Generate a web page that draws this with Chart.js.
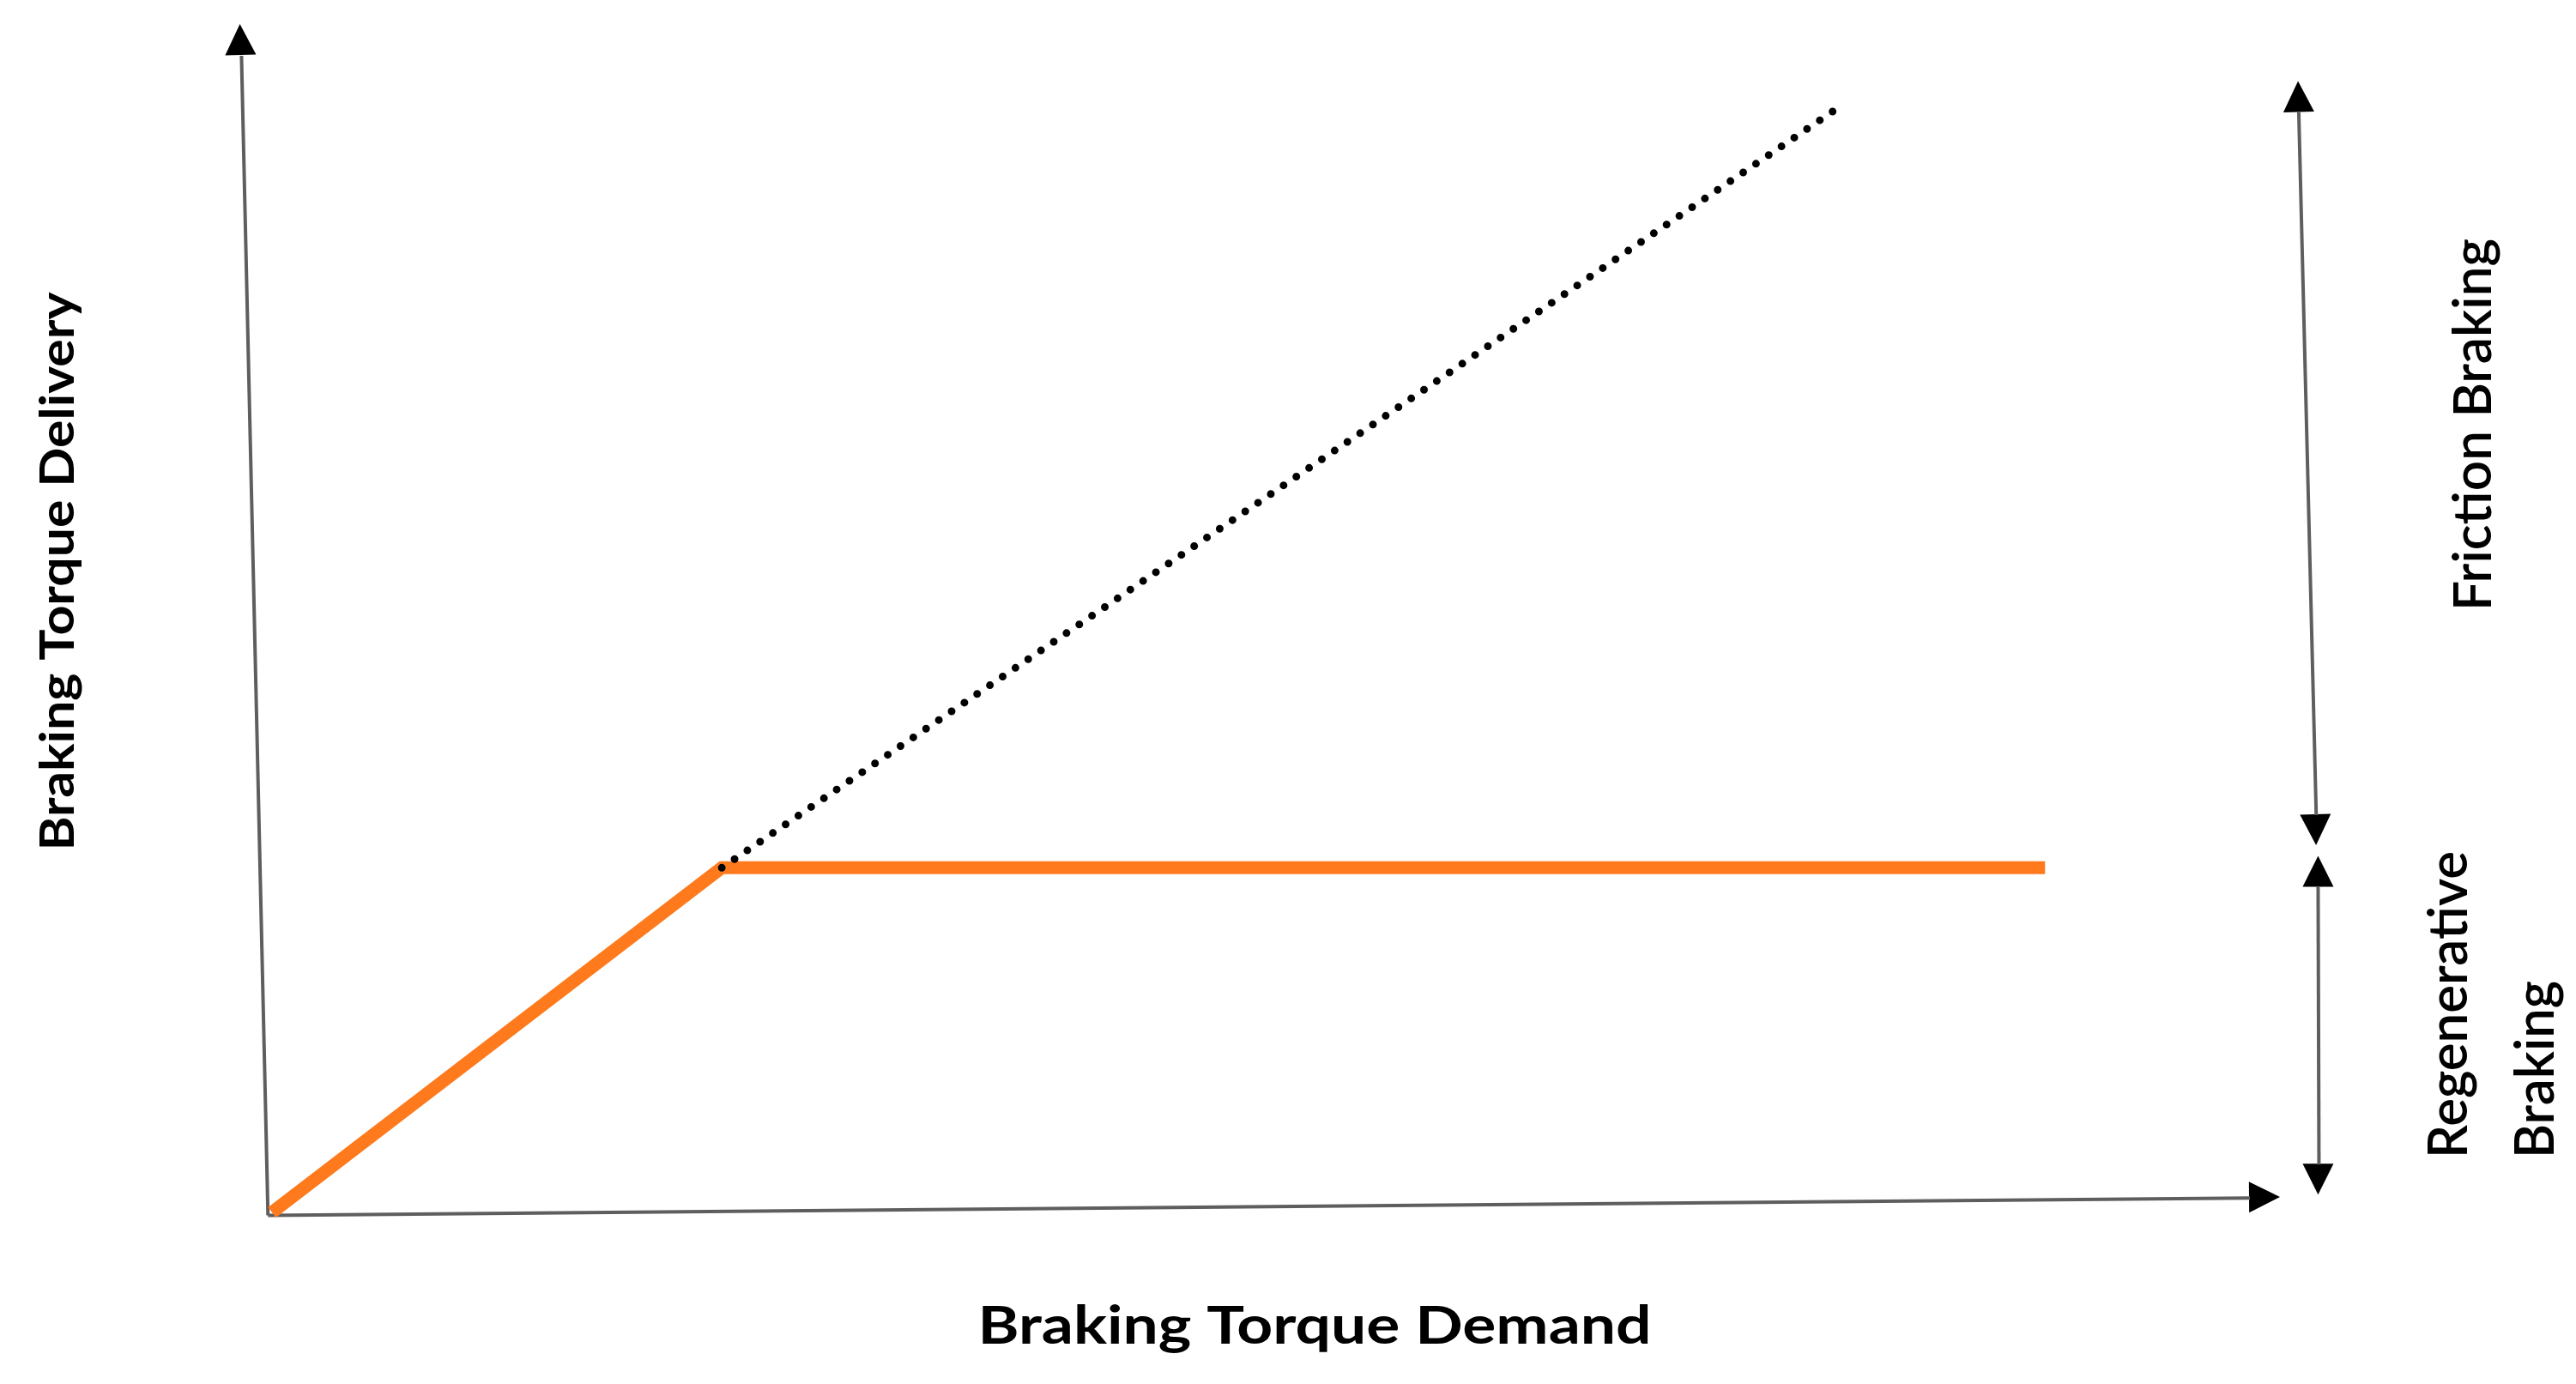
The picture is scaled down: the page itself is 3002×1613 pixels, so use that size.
<!DOCTYPE html>
<html>
<head>
<meta charset="utf-8">
<script src="https://cdn.jsdelivr.net/npm/chart.js@4.4.1/dist/chart.umd.min.js"></script>
<style>
  html, body { margin: 0; padding: 0; background: #fff; }
  canvas { display: block; }
</style>
</head>
<body>
<canvas id="brake-chart" width="3002" height="1613"></canvas>
<script>
// ================= data =================
var demand = [0, 22.4, 88.3];
var delivery = [0, 29, 29];
var idealDemand = [22.4, 78.3];
var idealDelivery = [29, 93.3];
var xTitle = 'Braking Torque Demand';
var yTitle = 'Braking Torque Delivery';
var frictionLabel = 'Friction Braking';
var regenLabel = ['Regenerative', 'Braking'];

function toPoints(xs, ys) {
  return xs.map(function(x, i) { return { x: x, y: ys[i] }; });
}

// ================= helpers =================
function arrowHead(ctx, x1, y1, x2, y2, len, half) {
  var a = Math.atan2(y2 - y1, x2 - x1);
  var bx = x2 - len * Math.cos(a), by = y2 - len * Math.sin(a);
  ctx.beginPath();
  ctx.moveTo(x2, y2);
  ctx.lineTo(bx + half * Math.sin(a), by - half * Math.cos(a));
  ctx.lineTo(bx - half * Math.sin(a), by + half * Math.cos(a));
  ctx.closePath();
  ctx.fill();
  return [bx, by];
}

function arrow(ctx, p1, p2, both) {
  var len = 36, half = 18;
  ctx.fillStyle = '#000';
  var e = arrowHead(ctx, p1[0], p1[1], p2[0], p2[1], len, half);
  var s = p1;
  if (both) s = arrowHead(ctx, p2[0], p2[1], p1[0], p1[1], len, half);
  ctx.strokeStyle = '#5e5e5e';
  ctx.lineWidth = 4;
  ctx.beginPath();
  ctx.moveTo(s[0], s[1]);
  ctx.lineTo(e[0] + 1, e[1] + 1);
  ctx.stroke();
}

// text sized by cap height, squeezed/stretched to a length
function fittedText(ctx, text, x, y, angle, len, cap, weight, align) {
  ctx.save();
  ctx.translate(x, y);
  ctx.rotate(angle);
  var size = cap / 0.7165;
  ctx.font = weight + ' ' + size + 'px Lato';
  var w = ctx.measureText(text).width;
  ctx.scale(len / w, 1);
  ctx.fillStyle = '#000';
  ctx.textAlign = align;
  ctx.textBaseline = 'alphabetic';
  ctx.fillText(text, 0, cap / 2);
  ctx.restore();
}

var arrowsPlugin = {
  id: 'arrowsPlugin',
  beforeDatasetsDraw: function(chart) {
    var ctx = chart.ctx, xs = chart.scales.x, ys = chart.scales.y;
    function px(x, y) { return [xs.getPixelForValue(x), ys.getPixelForValue(y)]; }
    ctx.save();
    // axes (slightly skewed, as drawn in the original)
    arrow(ctx, px(-0.2, -0.25), px(100, 1.3), false);
    arrow(ctx, px(-0.2, -0.25), px(-1.6, 100), false);
    // band arrows on the right
    arrow(ctx, px(100.9, 95.2), px(101.8, 30.9), true);
    arrow(ctx, px(101.9, 30.0), px(101.9, 1.5), true);
    ctx.restore();
  },
  afterDraw: function(chart) {
    var ctx = chart.ctx;
    fittedText(ctx, xTitle, 1532, 1544, 0, 785, 44, 'bold', 'center');
    fittedText(ctx, yTitle, 66, 666, -Math.PI / 2, 651, 40, 'bold', 'center');
    fittedText(ctx, frictionLabel, 2881, 495, -Math.PI / 2, 434, 44, '600', 'center');
    fittedText(ctx, regenLabel[0], 2852, 1350, -Math.PI / 2, 358, 46, '600', 'left');
    fittedText(ctx, regenLabel[1], 2953, 1350, -Math.PI / 2, 207, 46, '600', 'left');
  }
};

// ================= chart =================
var ctx = document.getElementById('brake-chart');
new Chart(ctx, {
  type: 'scatter',
  data: {
    datasets: [{
      label: 'Ideal',
      data: toPoints(idealDemand, idealDelivery),
      showLine: true,
      borderColor: '#000',
      borderWidth: 9,
      borderDash: [0, 18],
      borderCapStyle: 'round',
      pointRadius: 0,
      clip: false
    }, {
      label: 'Regenerative',
      data: toPoints(demand, delivery),
      showLine: true,
      borderColor: '#ff7a1c',
      borderWidth: 15,
      borderJoinStyle: 'miter',
      borderCapStyle: 'butt',
      pointRadius: 0,
      clip: false
    }]
  },
  options: {
    responsive: false,
    animation: false,
    devicePixelRatio: 1,
    layout: { padding: { left: 317, right: 345, top: 28, bottom: 200 } },
    plugins: {
      legend: { display: false },
      tooltip: { enabled: false }
    },
    scales: {
      x: { type: 'linear', min: 0, max: 100, display: false },
      y: { type: 'linear', min: 0, max: 100, display: false }
    }
  },
  plugins: [arrowsPlugin]
});
</script>
</body>
</html>
